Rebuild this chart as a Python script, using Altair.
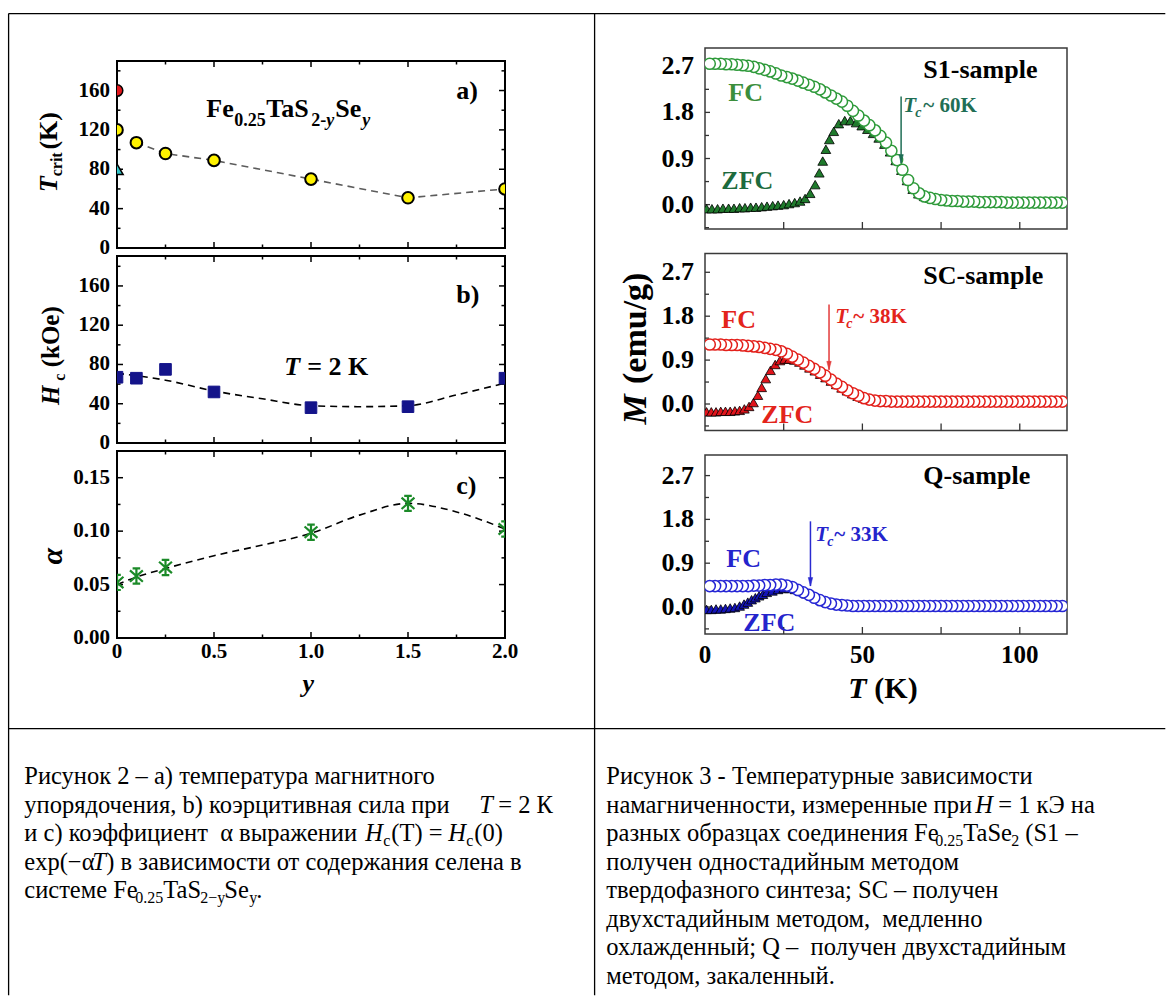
import altair as alt
import pandas as pd

FONT = "Liberation Serif"
ONE = pd.DataFrame({"d": [0]})

# ---------------- Figure 2 (left): Fe0.25TaS2-ySey ----------------
se_content = [0.0, 0.1, 0.25, 0.5, 1.0, 1.5, 2.0]
t_crit = [120, 107, 96, 89, 70, 51, 60]
t_crit_red_se, t_crit_red = [0.0], [160]
t_crit_cyan_se, t_crit_cyan = [0.0], [80]
t_crit_guide_se = [0.1, 0.25, 0.5, 1.0, 1.5, 2.0]
t_crit_guide = [107, 96, 89, 70, 51, 60]

hc = [67, 66, 75, 52, 36, 37, 66]
hc_fit_se = [0.0, 0.25, 0.5, 0.75, 1.0, 1.25, 1.5, 1.75, 2.0]
hc_fit = [71, 64, 53, 45, 38, 37, 38, 49, 61]

alpha_se = [0.0, 0.1, 0.25, 1.0, 1.5, 2.0]
alpha = [0.052, 0.058, 0.066, 0.099, 0.126, 0.102]
alpha_fit_se = [0.0, 0.1, 0.25, 0.5, 0.75, 1.0, 1.25, 1.5, 1.75, 2.0]
alpha_fit = [0.050, 0.057, 0.065, 0.077, 0.087, 0.098, 0.115, 0.126, 0.118, 0.102]

se_ticks_major = [0.0, 0.5, 1.0, 1.5, 2.0]
se_tick_labels = ["0", "0.5", "1.0", "1.5", "2.0"]
se_ticks_minor = [0.25, 0.75, 1.25, 1.75]
k_ticks_major = [0, 40, 80, 120, 160]
k_tick_labels = ["0", "40", "80", "120", "160"]
k_ticks_minor = [20, 60, 100, 140, 180]
alpha_ticks_major = [0.0, 0.05, 0.10, 0.15]
alpha_tick_labels = ["0.00", "0.05", "0.10", "0.15"]
alpha_ticks_minor = [0.025, 0.075, 0.125]

# ---------------- Figure 3 (right): M(T) ----------------
T_fc = [1.5, 3.2, 5.0, 6.7, 8.5, 10.2, 12.0, 13.7, 15.5, 17.2,
        19.0, 20.7, 22.5, 24.2, 26.0, 27.7, 29.5, 31.2, 33.0, 34.7,
        36.5, 38.2, 40.0, 41.7, 43.5, 45.2, 47.0, 48.7, 50.5, 52.2,
        54.0, 55.7, 57.5, 59.2, 61.0, 62.7, 64.5, 66.2, 68.0, 69.7,
        71.5, 73.2, 75.0, 76.7, 78.5, 80.2, 82.0, 83.7, 85.5, 87.2,
        89.0, 90.7, 92.5, 94.2, 96.0, 97.7, 99.5, 101.2, 103.0, 104.7,
        106.5, 108.2, 110.0, 111.7, 113.5]
M_fc_s1 = [2.75, 2.75, 2.75, 2.74, 2.74, 2.73, 2.72, 2.71, 2.69, 2.66,
           2.63, 2.60, 2.56, 2.52, 2.49, 2.46, 2.42, 2.38, 2.34, 2.30,
           2.25, 2.19, 2.13, 2.07, 2.01, 1.93, 1.83, 1.74, 1.64, 1.55,
           1.45, 1.34, 1.21, 1.05, 0.87, 0.68, 0.48, 0.32, 0.22, 0.16,
           0.13, 0.11, 0.09, 0.08, 0.07, 0.07, 0.06, 0.06, 0.06, 0.05,
           0.05, 0.05, 0.05, 0.05, 0.04, 0.04, 0.04, 0.04, 0.04, 0.04,
           0.04, 0.04, 0.04, 0.04, 0.04]
M_fc_sc = [1.22, 1.22, 1.22, 1.21, 1.21, 1.21, 1.20, 1.19, 1.18, 1.17,
           1.15, 1.13, 1.11, 1.08, 1.03, 0.97, 0.91, 0.85, 0.78, 0.72,
           0.65, 0.58, 0.50, 0.42, 0.35, 0.28, 0.22, 0.17, 0.12, 0.09,
           0.07, 0.06, 0.06, 0.05, 0.05, 0.05, 0.05, 0.05, 0.05, 0.05,
           0.05, 0.05, 0.05, 0.05, 0.05, 0.05, 0.05, 0.05, 0.05, 0.05,
           0.05, 0.05, 0.05, 0.05, 0.05, 0.05, 0.05, 0.05, 0.05, 0.05,
           0.05, 0.05, 0.05, 0.05, 0.05]
M_fc_q = [0.43, 0.43, 0.43, 0.43, 0.43, 0.43, 0.43, 0.43, 0.44, 0.44,
          0.45, 0.45, 0.46, 0.46, 0.44, 0.41, 0.35, 0.30, 0.25, 0.19,
          0.14, 0.10, 0.07, 0.05, 0.04, 0.03, 0.02, 0.02, 0.02, 0.02,
          0.02, 0.02, 0.02, 0.02, 0.02, 0.02, 0.02, 0.02, 0.02, 0.02,
          0.02, 0.02, 0.02, 0.02, 0.02, 0.02, 0.02, 0.02, 0.02, 0.02,
          0.02, 0.02, 0.02, 0.02, 0.02, 0.02, 0.02, 0.02, 0.02, 0.02,
          0.02, 0.02, 0.02, 0.02, 0.02]

T_zfc_s1 = [0.5, 2.2, 4.0, 5.7, 7.5, 9.2, 11.0, 12.7, 14.5, 16.2,
            18.0, 19.7, 21.5, 23.2, 25.0, 26.7, 28.5, 30.2, 31.8, 33.4,
            35.0, 36.3, 37.4, 38.4, 39.5, 40.9, 42.5, 44.4, 46.2, 48.0,
            49.8, 51.6, 53.4, 55.2, 57.0, 58.8, 60.6, 62.4, 64.2, 66.0,
            67.8, 69.6, 71.4, 73.2, 75.0, 76.8, 78.6, 80.4, 82.2, 84.0,
            85.8, 87.6, 89.4, 91.2, 93.0, 94.8, 96.6, 98.4, 100.2, 102.0,
            103.8, 105.6, 107.4, 109.2, 111.0, 112.8]
M_zfc_s1 = [-0.08, -0.08, -0.08, -0.07, -0.07, -0.07, -0.06, -0.06, -0.05, -0.05,
            -0.04, -0.03, -0.02, -0.01, 0.00, 0.02, 0.04, 0.07, 0.12, 0.22,
            0.39, 0.62, 0.85, 1.08, 1.27, 1.43, 1.58, 1.64, 1.64, 1.60,
            1.54, 1.47, 1.39, 1.30, 1.18, 1.03, 0.86, 0.67, 0.47, 0.30,
            0.21, 0.16, 0.13, 0.11, 0.10, 0.09, 0.09, 0.08, 0.08, 0.08,
            0.07, 0.07, 0.07, 0.07, 0.07, 0.06, 0.06, 0.06, 0.06, 0.06,
            0.06, 0.06, 0.06, 0.06, 0.06, 0.06]

T_zfc_sc = [0.5, 2.0, 3.5, 5.0, 6.5, 8.0, 9.5, 11.0, 12.5, 14.0,
            15.4, 16.8, 18.0, 19.3, 20.8, 22.3, 23.8, 25.3, 26.8, 28.4,
            30.0, 31.6, 33.2, 34.9, 36.6, 38.3, 40.0, 41.7, 43.4, 45.1,
            46.8, 48.5, 50.2, 51.9, 53.6, 55.4, 57.2, 59.0, 60.8, 62.6,
            64.4, 66.2, 68.0, 69.8, 71.6, 73.4, 75.2, 77.0, 78.8, 80.6,
            82.4, 84.2, 86.0, 87.8, 89.6, 91.4, 93.2, 95.0, 96.8, 98.6,
            100.4, 102.2, 104.0, 105.8, 107.6, 109.4, 111.2, 113.0]
M_zfc_sc = [-0.16, -0.16, -0.16, -0.15, -0.15, -0.15, -0.14, -0.13, -0.10, -0.05,
            0.03, 0.18, 0.34, 0.52, 0.69, 0.81, 0.89, 0.92, 0.92, 0.90,
            0.86, 0.80, 0.74, 0.68, 0.61, 0.54, 0.47, 0.40, 0.33, 0.27,
            0.21, 0.16, 0.12, 0.10, 0.08, 0.07, 0.07, 0.07, 0.07, 0.07,
            0.07, 0.07, 0.07, 0.07, 0.07, 0.07, 0.07, 0.07, 0.07, 0.07,
            0.07, 0.07, 0.07, 0.07, 0.07, 0.07, 0.07, 0.07, 0.07, 0.07,
            0.07, 0.07, 0.07, 0.07, 0.07, 0.07, 0.07, 0.07]

T_zfc_q = [0.5, 2.0, 3.5, 5.0, 6.5, 8.0, 9.5, 11.0, 12.4, 13.6,
           14.8, 16.0, 17.2, 18.4, 19.6, 21.4, 23.2, 25.0, 26.8, 28.6,
           30.4, 32.2, 34.0, 35.8, 37.6, 39.4, 41.2, 43.0, 44.8, 46.6,
           48.4, 50.2, 52.0, 53.8, 55.6, 57.4, 59.2, 61.0, 62.8, 64.6,
           66.4, 68.2, 70.0, 71.8, 73.6, 75.4, 77.2, 79.0, 80.8, 82.6,
           84.4, 86.2, 88.0, 89.8, 91.6, 93.4, 95.2, 97.0, 98.8, 100.6,
           102.4, 104.2, 106.0, 107.8, 109.6, 111.4, 113.2]
M_zfc_q = [-0.05, -0.05, -0.04, -0.04, -0.03, -0.02, -0.01, 0.02, 0.06, 0.10,
           0.15, 0.19, 0.23, 0.26, 0.30, 0.33, 0.36, 0.38, 0.38, 0.36,
           0.32, 0.27, 0.22, 0.17, 0.13, 0.09, 0.07, 0.05, 0.05, 0.04,
           0.04, 0.04, 0.04, 0.04, 0.04, 0.04, 0.04, 0.04, 0.04, 0.04,
           0.04, 0.04, 0.04, 0.04, 0.04, 0.04, 0.04, 0.04, 0.04, 0.04,
           0.04, 0.04, 0.04, 0.04, 0.04, 0.04, 0.04, 0.04, 0.04, 0.04,
           0.04, 0.04, 0.04, 0.04, 0.04, 0.04, 0.04]

# Tc arrows: (T, M at arrow top, M at arrow tip)
arrow_s1 = (62.3, 2.11, 0.81)
arrow_sc = (39.4, 2.04, 0.70)
arrow_q = (33.5, 1.76, 0.43)

m_ticks_major = [0.0, 0.9, 1.8, 2.7]
m_tick_labels = ["0.0", "0.9", "1.8", "2.7"]
m_ticks_minor = [-0.45, 0.45, 1.35, 2.25]
t_ticks_major = [25, 50, 75, 100]
t_label_values = [0, 50, 100]
t_tick_labels = ["0", "50", "100"]

# ---------------- captions ----------------
NB = "\u00a0"
CAP1 = [
    [("Рисунок 2 – а) температура магнитного", 23, "n")],
    [("упорядочения, b) коэрцитивная сила при", 23, "n"), ("T", 478, "i"), ("= 2 К", 497, "n")],
    [("и с) коэффициент" + NB + " α выражении", 23, "n"), ("H", 364, "i"), ("c", 382, "s"),
     ("(T) = ", 390, "n"), ("H", 447, "i"), ("c", 465, "s"), ("(0)", 473, "n")],
    [("exp(−α", 23, "n"), ("T", 91, "i"), (") в зависимости от содержания селена в", 105, "n")],
    [("системе Fe", 23, "n"), ("0.25", 134, "s"), ("TaS", 162, "n"), ("2−y", 199, "s"),
     ("Se", 223, "n"), ("y", 248, "s"), (".", 255, "n")],
]
CAP2 = [
    [("Рисунок 3 - Температурные зависимости", 605, "n")],
    [("намагниченности, измеренные при", 605, "n"), ("H", 974, "i"), ("= 1 кЭ на", 997, "n")],
    [("разных образцах соединения Fe", 605, "n"), ("0.25", 934, "s"), ("TaSe", 962, "n"),
     ("2", 1010, "s"), ("(S1 –", 1024, "n")],
    [("получен одностадийным методом", 605, "n")],
    [("твердофазного синтеза; SC – получен", 605, "n")],
    [("двухстадийным методом," + NB + " медленно", 605, "n")],
    [("охлажденный; Q –" + NB + " получен двухстадийным", 605, "n")],
    [("методом, закаленный.", 605, "n")],
]
CAP_BASE = 783
CAP_STEP = 28.5
CAP_SIZE = 24.5


# ---------------- helpers ----------------
def txt(s, x, y, size, color="black", weight="bold", style="normal",
        align="left", baseline="alphabetic", angle=None):
    kw = dict(text=s, font=FONT, fontSize=size, fontWeight=weight, fontStyle=style,
              color=color, align=align, baseline=baseline)
    if angle is not None:
        kw["angle"] = angle
    return alt.Chart(ONE).mark_text(**kw).encode(x=alt.value(x), y=alt.value(y))


def seg(x1, y1, x2, y2, color="black", width=1.3, opacity=1.0):
    return alt.Chart(ONE).mark_rule(color=color, strokeWidth=width, strokeOpacity=opacity).encode(
        x=alt.value(x1), y=alt.value(y1), x2=alt.value(x2), y2=alt.value(y2))


def y_labels(vals, labs, ys, dx, size):
    df = pd.DataFrame({"v": vals, "lab": labs})
    return alt.Chart(df).mark_text(font=FONT, fontSize=size, fontWeight="bold", color="black",
                                   align="right", baseline="middle").encode(
        y=alt.Y("v:Q", scale=ys, axis=None), x=alt.value(dx), text="lab:N")


def x_labels(vals, labs, xs, dy, size):
    df = pd.DataFrame({"v": vals, "lab": labs})
    return alt.Chart(df).mark_text(font=FONT, fontSize=size, fontWeight="bold", color="black",
                                   align="center", baseline="top").encode(
        x=alt.X("v:Q", scale=xs, axis=None), y=alt.value(dy), text="lab:N")


LW, LH = 388, 187
PA = (115.7, 59.7)
PB = (115.7, 254.7)
PC = (115.7, 449.7)
RW = 362
PS1 = (703.7, 46.7)
PSC = (703.7, 252.2)
PQ = (703.7, 453.7)
SP = (115.7, 46.7)

ASTERISK = "M0,-1L0,1M-0.85,-0.75L0.85,0.75M-0.85,0.75L0.85,-0.75M-0.5,-1L0.5,-1M-0.5,1L0.5,1"
ARROW_HEAD = "M-0.45,-1.7L0.45,-1.7L0,0Z"


def left_panel(origin, ydom, ymaj, ylabs, ymin, data_fn, notes, xlabels):
    ox, oy = origin
    xs = alt.Scale(domain=[0.0, 2.0], nice=False, zero=False)
    ys = alt.Scale(domain=ydom, nice=False, zero=False)
    layers = []
    for vals, L in ((ymaj, 6), (ymin, 3.5)):
        df = pd.DataFrame({"v": vals})
        layers.append(alt.Chart(df).mark_rule(color="black", strokeWidth=1.5).encode(
            y=alt.Y("v:Q", scale=ys, axis=None), x=alt.value(0), x2=alt.value(L)))
        layers.append(alt.Chart(df).mark_rule(color="black", strokeWidth=1.5).encode(
            y=alt.Y("v:Q", scale=ys, axis=None), x=alt.value(LW), x2=alt.value(LW - L)))
    for vals, L in ((se_ticks_major, 6), (se_ticks_minor, 3.5)):
        df = pd.DataFrame({"v": vals})
        layers.append(alt.Chart(df).mark_rule(color="black", strokeWidth=1.5).encode(
            x=alt.X("v:Q", scale=xs, axis=None), y=alt.value(LH), y2=alt.value(LH - L)))
        layers.append(alt.Chart(df).mark_rule(color="black", strokeWidth=1.5).encode(
            x=alt.X("v:Q", scale=xs, axis=None), y=alt.value(0), y2=alt.value(L)))
    layers.append(y_labels(ymaj, ylabs, ys, -7, 21))
    if xlabels:
        layers.append(x_labels(se_ticks_major, se_tick_labels, xs, LH + 3, 21))
    layers += data_fn(xs, ys)
    for n in notes:
        s, x, y, size = n[0], n[1], n[2], n[3]
        kw = n[4] if len(n) > 4 else {}
        layers.append(txt(s, x - ox, y - oy, size, **kw))
    return alt.layer(*layers).properties(
        width=LW, height=LH, view=alt.ViewBackground(stroke="black", strokeWidth=2))


def enc_se(xs, ys):
    return dict(x=alt.X("se:Q", scale=xs, axis=None), y=alt.Y("v:Q", scale=ys, axis=None))


def data_a(xs, ys):
    g = pd.DataFrame({"se": t_crit_guide_se, "v": t_crit_guide})
    main = pd.DataFrame({"se": se_content, "v": t_crit})
    red = pd.DataFrame({"se": t_crit_red_se, "v": t_crit_red})
    cyan = pd.DataFrame({"se": t_crit_cyan_se, "v": t_crit_cyan})
    return [
        alt.Chart(g).mark_line(color="#5c5c5c", strokeWidth=1.6, strokeDash=[7, 5], clip=True).encode(**enc_se(xs, ys)),
        alt.Chart(red).mark_point(shape="circle", filled=True, fill="#e3161c", stroke="black",
                                  strokeWidth=1.5, size=135, opacity=1, clip=True).encode(**enc_se(xs, ys)),
        alt.Chart(cyan).mark_point(shape="triangle-up", filled=True, fill="#33c4c8", stroke="black",
                                   strokeWidth=1.5, size=150, opacity=1, clip=True).encode(**enc_se(xs, ys)),
        alt.Chart(main).mark_point(shape="circle", filled=True, fill="#fff200", stroke="black",
                                   strokeWidth=2, size=135, opacity=1, clip=True).encode(**enc_se(xs, ys)),
    ]


def data_b(xs, ys):
    g = pd.DataFrame({"se": hc_fit_se, "v": hc_fit})
    main = pd.DataFrame({"se": se_content, "v": hc})
    return [
        alt.Chart(g).mark_line(color="black", strokeWidth=1.6, strokeDash=[7, 5], interpolate="monotone",
                               clip=True).encode(**enc_se(xs, ys)),
        alt.Chart(main).mark_point(shape="square", filled=True, fill="#14148a", stroke="#14148a",
                                   strokeWidth=1, size=135, opacity=1, clip=True).encode(**enc_se(xs, ys)),
    ]


def data_c(xs, ys):
    g = pd.DataFrame({"se": alpha_fit_se, "v": alpha_fit})
    main = pd.DataFrame({"se": alpha_se, "v": alpha})
    return [
        alt.Chart(g).mark_line(color="black", strokeWidth=1.6, strokeDash=[7, 5], interpolate="monotone",
                               clip=True).encode(**enc_se(xs, ys)),
        alt.Chart(main).mark_point(shape=ASTERISK, filled=False, stroke="#1b8a28", strokeWidth=2.2,
                                   size=230, opacity=1, clip=True).encode(**enc_se(xs, ys)),
    ]


ROT = dict(align="center", baseline="middle", angle=270)

notes_a = [
    ("Fe", 205, 116, 26), ("0.25", 233, 125, 18), ("TaS", 265, 116, 26),
    ("2-", 310, 125, 18), ("y", 325, 125, 18, {"style": "italic"}),
    ("Se", 334, 116, 26), ("y", 361, 125, 18, {"style": "italic"}),
    ("a)", 455, 98, 26),
    ("T", 47.5, 183, 26, dict(style="italic", **ROT)),
    ("crit", 56, 163, 16, dict(ROT)),
    ("(K)", 47.5, 129.5, 26, dict(ROT)),
]
notes_b = [
    ("T", 283, 374, 26, {"style": "italic"}), ("= 2 K", 306, 374, 26),
    ("b)", 455, 301.5, 26),
    ("H", 50, 394, 25, dict(style="italic", **ROT)),
    ("c", 58.5, 376, 16, dict(ROT)),
    ("(kOe)", 50, 335.5, 25, dict(ROT)),
]
notes_c = [
    ("c)", 455, 493, 26),
    ("α", 51.5, 555, 30, dict(style="italic", **ROT)),
    ("y", 307, 691, 26, {"style": "italic", "align": "center"}),
]

pa = left_panel(PA, [0, 190], k_ticks_major, k_tick_labels, k_ticks_minor, data_a, notes_a, False)
pb = left_panel(PB, [0, 190.5], k_ticks_major, k_tick_labels, k_ticks_minor, data_b, notes_b, False)
pc = left_panel(PC, [0, 0.175], alpha_ticks_major, alpha_tick_labels, alpha_ticks_minor, data_c, notes_c, True)


def right_panel(origin, h, ydom, fc_M, zfc_T, zfc_M, fc_col, zfc_col, arrow, arrow_col, notes, xlabels):
    ox, oy = origin
    xs = alt.Scale(domain=[0, 115], nice=False, zero=False)
    ys = alt.Scale(domain=ydom, nice=False, zero=False)
    tc = "#333333"
    layers = [
        alt.Chart(pd.DataFrame({"v": m_ticks_major})).mark_rule(color=tc, strokeWidth=1.3).encode(
            y=alt.Y("v:Q", scale=ys, axis=None), x=alt.value(0), x2=alt.value(5)),
        alt.Chart(pd.DataFrame({"v": m_ticks_minor})).mark_rule(color=tc, strokeWidth=1.3).encode(
            y=alt.Y("v:Q", scale=ys, axis=None), x=alt.value(0), x2=alt.value(4)),
        alt.Chart(pd.DataFrame({"v": t_ticks_major})).mark_rule(color=tc, strokeWidth=1.3).encode(
            x=alt.X("v:Q", scale=xs, axis=None), y=alt.value(h), y2=alt.value(h - 7)),
        y_labels(m_ticks_major, m_tick_labels, ys, -11, 26),
    ]
    if xlabels:
        layers.append(x_labels(t_label_values, t_tick_labels, xs, h + 9, 25))
    zdf = pd.DataFrame({"T": zfc_T, "M": zfc_M})
    fdf = pd.DataFrame({"T": T_fc, "M": fc_M}).iloc[::-1].reset_index(drop=True)

    def enc():
        return dict(x=alt.X("T:Q", scale=xs, axis=None), y=alt.Y("M:Q", scale=ys, axis=None))

    layers.append(alt.Chart(zdf).mark_point(shape="triangle-up", filled=True, fill=zfc_col, stroke="black",
                                            strokeWidth=0.8, size=95, opacity=1, clip=True).encode(**enc()))
    layers.append(alt.Chart(fdf).mark_point(shape="circle", filled=True, fill="white", stroke=fc_col,
                                            strokeWidth=1.5, size=125, opacity=1, clip=True).encode(**enc()))
    adf = pd.DataFrame({"T": [arrow[0]], "top": [arrow[1]], "tip": [arrow[2]]})
    layers.append(alt.Chart(adf).mark_rule(color=arrow_col, strokeWidth=1.5).encode(
        x=alt.X("T:Q", scale=xs, axis=None), y=alt.Y("top:Q", scale=ys, axis=None), y2="tip:Q"))
    layers.append(alt.Chart(adf).mark_point(shape=ARROW_HEAD, filled=True, fill=arrow_col, stroke=arrow_col,
                                            strokeWidth=0.5, size=100, opacity=1).encode(
        x=alt.X("T:Q", scale=xs, axis=None), y=alt.Y("tip:Q", scale=ys, axis=None)))
    for n in notes:
        s, x, y, size = n[0], n[1], n[2], n[3]
        kw = n[4] if len(n) > 4 else {}
        layers.append(txt(s, x - ox, y - oy, size, **kw))
    return alt.layer(*layers).properties(
        width=RW, height=h, view=alt.ViewBackground(stroke="#3a3a3a", strokeWidth=1.5))


G_FC, G_ZFC, G_TXT1, G_TXT2, G_TC = "#2e9a3a", "#1f7a2c", "#3b8e3b", "#1d6b3d", "#1f6e55"
R_FC, R_ZFC, R_TXT = "#e3201b", "#e0141b", "#e3241b"
B_FC, B_ZFC, B_TXT = "#2626d4", "#1414b8", "#2424cc"

notes_s1 = [
    ("S1-sample", 922, 76.5, 26),
    ("FC", 727, 100, 26, {"color": G_TXT1}),
    ("ZFC", 720, 188, 26, {"color": G_TXT2}),
    ("T", 902, 111, 21, {"color": G_TC, "style": "italic"}),
    ("c", 914, 116, 14, {"color": G_TC, "style": "italic"}),
    ("~ 60K", 922, 111, 21, {"color": G_TC}),
]
notes_sc = [
    ("SC-sample", 922, 283, 26),
    ("FC", 720, 326.5, 26, {"color": R_TXT}),
    ("ZFC", 760, 421.5, 26, {"color": R_TXT}),
    ("T", 834, 322, 21, {"color": R_TXT, "style": "italic"}),
    ("c", 845, 327, 14, {"color": R_TXT, "style": "italic"}),
    ("~ 38K", 852, 322, 21, {"color": R_TXT}),
    ("M", 635, 408, 34, dict(style="italic", **ROT)),
    ("(emu/g)", 635, 327, 34, dict(ROT)),
]
notes_q = [
    ("Q-sample", 922, 483, 26),
    ("FC", 725, 566, 26, {"color": B_TXT}),
    ("ZFC", 742, 630, 26, {"color": B_TXT}),
    ("T", 814, 540, 21, {"color": B_TXT, "style": "italic"}),
    ("c", 826, 545, 14, {"color": B_TXT, "style": "italic"}),
    ("~ 33K", 833, 540, 21, {"color": B_TXT}),
    ("T", 847, 697, 30, {"style": "italic"}),
    ("(K)", 873, 697, 30),
]

ps1 = right_panel(PS1, 181, [-0.476, 3.057], M_fc_s1, T_zfc_s1, M_zfc_s1, G_FC, G_ZFC,
                  arrow_s1, G_TC, notes_s1, False)
psc = right_panel(PSC, 177, [-0.543, 3.085], M_fc_sc, T_zfc_sc, M_zfc_sc, R_FC, R_ZFC,
                  arrow_sc, "#e33b3b", notes_sc, False)
pq = right_panel(PQ, 179, [-0.555, 3.123], M_fc_q, T_zfc_q, M_zfc_q, B_FC, B_ZFC,
                 arrow_q, "#2a2ad0", notes_q, True)

# ---------------- spacer cell: table rules + captions ----------------
sx, sy = SP
sp_layers = [
    seg(0 - sx, 0 - sy, 1 - sx, 0 - sy, width=0, opacity=0),          # page origin anchor
    seg(7.3 - sx, 12.3 - sy, 1164 - sx, 12.3 - sy),
    seg(7.3 - sx, 12.3 - sy, 7.3 - sx, 994 - sy),
    seg(593.3 - sx, 12.3 - sy, 593.3 - sx, 994 - sy),
    seg(7.3 - sx, 727.3 - sy, 1164 - sx, 727.3 - sy),
]
for cap in (CAP1, CAP2):
    for i, line in enumerate(cap):
        base = CAP_BASE + CAP_STEP * i
        for s, x, kind in line:
            if kind == "s":
                sp_layers.append(txt(s, x - sx, base + 5 - sy, 16, weight="normal"))
            elif kind == "i":
                sp_layers.append(txt(s, x - sx, base - sy, CAP_SIZE, weight="normal", style="italic"))
            else:
                sp_layers.append(txt(s, x - sx, base - sy, CAP_SIZE, weight="normal"))

spacer = alt.layer(*sp_layers).properties(
    width=LW, height=5, view=alt.ViewBackground(stroke="transparent"))

left_col = alt.vconcat(spacer, pa, pb, pc, spacing=8, bounds="flush")
right_col = alt.vconcat(ps1, psc, pq, spacing=24.5, bounds="flush")
chart = alt.hconcat(left_col, right_col, spacing=588, bounds="flush").properties(
    padding=0, background="white"
).configure_view(stroke="transparent")

chart.save("out.html", embed_options={"renderer": "svg", "actions": False})
